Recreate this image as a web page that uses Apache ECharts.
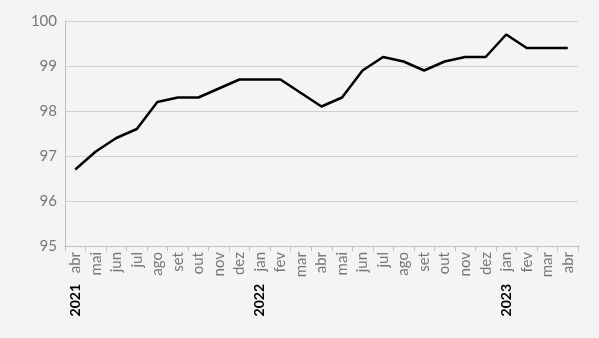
<!DOCTYPE html>
<html>
<head>
<meta charset="utf-8">
<script src="https://cdn.jsdelivr.net/npm/echarts@6/dist/echarts.min.js"></script>
<style>
  html, body { margin: 0; padding: 0; background: #f4f4f4; }
  #chart { width: 599px; height: 338px; }
</style>
</head>
<body>
<div id="chart"></div>
<script>
const months = ['abr', 'mai', 'jun', 'jul', 'ago', 'set', 'out', 'nov', 'dez', 'jan', 'fev', 'mar',
  'abr', 'mai', 'jun', 'jul', 'ago', 'set', 'out', 'nov', 'dez', 'jan', 'fev', 'mar', 'abr'];
const years = ['2021', '', '', '', '', '', '', '', '', '2022', '', '', '',
  '', '', '', '', '', '', '', '', '2023', '', '', ''];
const values = [96.7, 97.1, 97.4, 97.6, 98.2, 98.3, 98.3, 98.5, 98.7, 98.7, 98.7, 98.4,
  98.1, 98.3, 98.9, 99.2, 99.1, 98.9, 99.1, 99.2, 99.2, 99.7, 99.4, 99.4, 99.4];

const chart = echarts.init(document.getElementById('chart'));

chart.setOption({
  backgroundColor: '#f4f4f4',
  animation: false,
  grid: { left: 65, right: 21, top: 21, bottom: 92 },
  xAxis: [
    {
      type: 'category',
      data: months,
      boundaryGap: true,
      axisLine: { lineStyle: { color: '#bfbfbf', width: 1 } },
      axisTick: { show: true, length: 5, lineStyle: { color: '#bfbfbf' } },
      axisLabel: {
        rotate: 90,
        interval: 0,
        margin: 6,
        color: '#777',
        fontFamily: 'Lato',
        fontSize: 15
      }
    },
    {
      type: 'category',
      data: years,
      position: 'bottom',
      offset: 30,
      axisLine: { show: false },
      axisTick: { show: false },
      axisLabel: {
        rotate: 90,
        interval: 0,
        color: '#000',
        fontWeight: 'bold',
        fontFamily: 'Lato',
        fontSize: 14
      }
    }
  ],
  yAxis: {
    type: 'value',
    min: 95,
    max: 100,
    interval: 1,
    axisLine: { show: true, lineStyle: { color: '#bfbfbf' } },
    axisTick: { show: false },
    splitLine: { lineStyle: { color: '#d0d0d0', width: 1 } },
    axisLabel: {
      margin: 8,
      color: '#777',
      fontFamily: 'Lato',
      fontSize: 15
    }
  },
  series: [{
    type: 'line',
    data: values,
    xAxisIndex: 0,
    symbol: 'none',
    lineStyle: { color: '#000', width: 2.5 }
  }]
});
</script>
</body>
</html>
